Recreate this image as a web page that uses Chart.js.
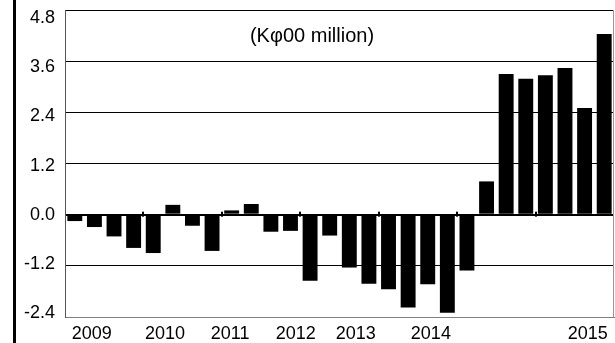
<!DOCTYPE html>
<html>
<head>
<meta charset="utf-8">
<script src="https://cdn.jsdelivr.net/npm/chart.js@4.4.0/dist/chart.umd.min.js"></script>
<style>
  html, body { margin: 0; padding: 0; background: #fff; }
  #wrap { width: 615px; height: 343px; }
</style>
</head>
<body>
<div id="wrap"><canvas id="chart"></canvas></div>
<script>
const quarters = [
  '2009 Q1', '2009 Q2', '2009 Q3', '2009 Q4',
  '2010 Q1', '2010 Q2', '2010 Q3', '2010 Q4',
  '2011 Q1', '2011 Q2', '2011 Q3', '2011 Q4',
  '2012 Q1', '2012 Q2', '2012 Q3', '2012 Q4',
  '2013 Q1', '2013 Q2', '2013 Q3', '2013 Q4',
  '2014 Q1', '2014 Q2', '2014 Q3', '2014 Q4',
  '2015 Q1', '2015 Q2', '2015 Q3', '2015 Q4'
]
const balance = [
  -0.15, -0.29, -0.51, -0.78,
  -0.90, 0.23, -0.26, -0.85,
  0.10, 0.25, -0.40, -0.38,
  -1.55, -0.49, -1.24, -1.62,
  -1.75, -2.18, -1.63, -2.30,
  -1.31, 0.78, 3.30, 3.19,
  3.27, 3.44, 2.50, 4.24
]
const yTicks = [-2.4, -1.2, 0, 1.2, 2.4, 3.6, 4.8]
const yearLabels = ['2009', '2010', '2011', '2012', '2013', '2014', '2015']
// where the year labels sit, counted in quarters from the first bar
const yearLabelAt = [0.86, 4.6, 7.92, 11.27, 14.33, 18.16, 26.16]
const unitText = '(K\u03C600 million)'

const font = { family: "'Liberation Sans', Arial, sans-serif", size: 18 }

const frame = {
  id: 'frame',
  afterDraw(chart) {
    const { ctx, chartArea: a, scales } = chart
    ctx.save()
    // thick rule down the left side
    ctx.fillStyle = '#000'
    ctx.fillRect(13, 0, 3, chart.height)
    // right edge of the plot
    ctx.strokeStyle = '#9a9a9a'
    ctx.lineWidth = 1
    ctx.beginPath()
    ctx.moveTo(a.right - 0.5, a.top)
    ctx.lineTo(a.right - 0.5, a.bottom)
    ctx.stroke()
    // small year marks on the zero line
    const y0 = scales.y.getPixelForValue(0)
    ctx.fillStyle = '#000'
    for (let k = 1; k < 7; k++) {
      const x = scales.x2.getPixelForValue(k * 4 - 0.5)
      ctx.fillRect(Math.round(x) - 1, y0 - 3, 2, 5)
    }
    // unit note
    ctx.font = "20px 'Liberation Sans', Arial, sans-serif"
    ctx.textAlign = 'center'
    ctx.textBaseline = 'middle'
    ctx.fillText(unitText, 312, 36)
    ctx.restore()
  }
}

new Chart(document.getElementById('chart'), {
  type: 'bar',
  data: {
    labels: quarters,
    datasets: [{
      data: balance,
      backgroundColor: '#000',
      borderWidth: 0,
      barPercentage: 0.76,
      categoryPercentage: 1
    }]
  },
  options: {
    responsive: true,
    maintainAspectRatio: false,
    animation: false,
    layout: { padding: { top: 0, right: 1, left: 0, bottom: 0 } },
    plugins: { legend: false, tooltip: { enabled: false } },
    scales: {
      x: { display: false },
      x2: {
        type: 'linear',
        position: 'bottom',
        offset: false,
        min: -0.5,
        max: 27.5,
        afterBuildTicks: axis => { axis.ticks = yearLabelAt.map(v => ({ value: v })) },
        afterFit: scale => { scale.height = 26 },
        grid: { display: false, drawTicks: false, offset: false },
        border: { display: true, color: '#808080', width: 1 },
        ticks: {
          autoSkip: false,
          maxRotation: 0,
          padding: 6,
          color: '#000',
          font: font,
          callback: (v, i) => yearLabels[i]
        }
      },
      // value axis: carries the bars and the grid
      y: {
        min: -2.4,
        max: 4.8,
        afterBuildTicks: axis => { axis.ticks = yTicks.map(v => ({ value: v })) },
        afterFit: scale => { scale.width = 0 },
        grid: {
          drawTicks: false,
          color: c => c.tick && c.tick.value === -2.4 ? 'rgba(0,0,0,0)' : '#000',
          lineWidth: c => c.tick && c.tick.value === 0 ? 2 : 1
        },
        border: { display: true, color: '#555', width: 1 },
        ticks: { display: false }
      },
      // label axis: the original spreads its labels a little tighter than its grid
      yLabels: {
        type: 'linear',
        position: 'left',
        min: -2.49,
        max: 4.995,
        afterBuildTicks: axis => { axis.ticks = yTicks.map(v => ({ value: v })) },
        afterFit: scale => { scale.width = 65 },
        grid: { display: false, drawTicks: false },
        border: { display: false },
        ticks: {
          padding: 10,
          color: '#000',
          font: { family: font.family, size: 18, lineHeight: 0 },
          callback: v => v.toFixed(1)
        }
      }
    }
  },
  plugins: [frame]
})
</script>
</body>
</html>
